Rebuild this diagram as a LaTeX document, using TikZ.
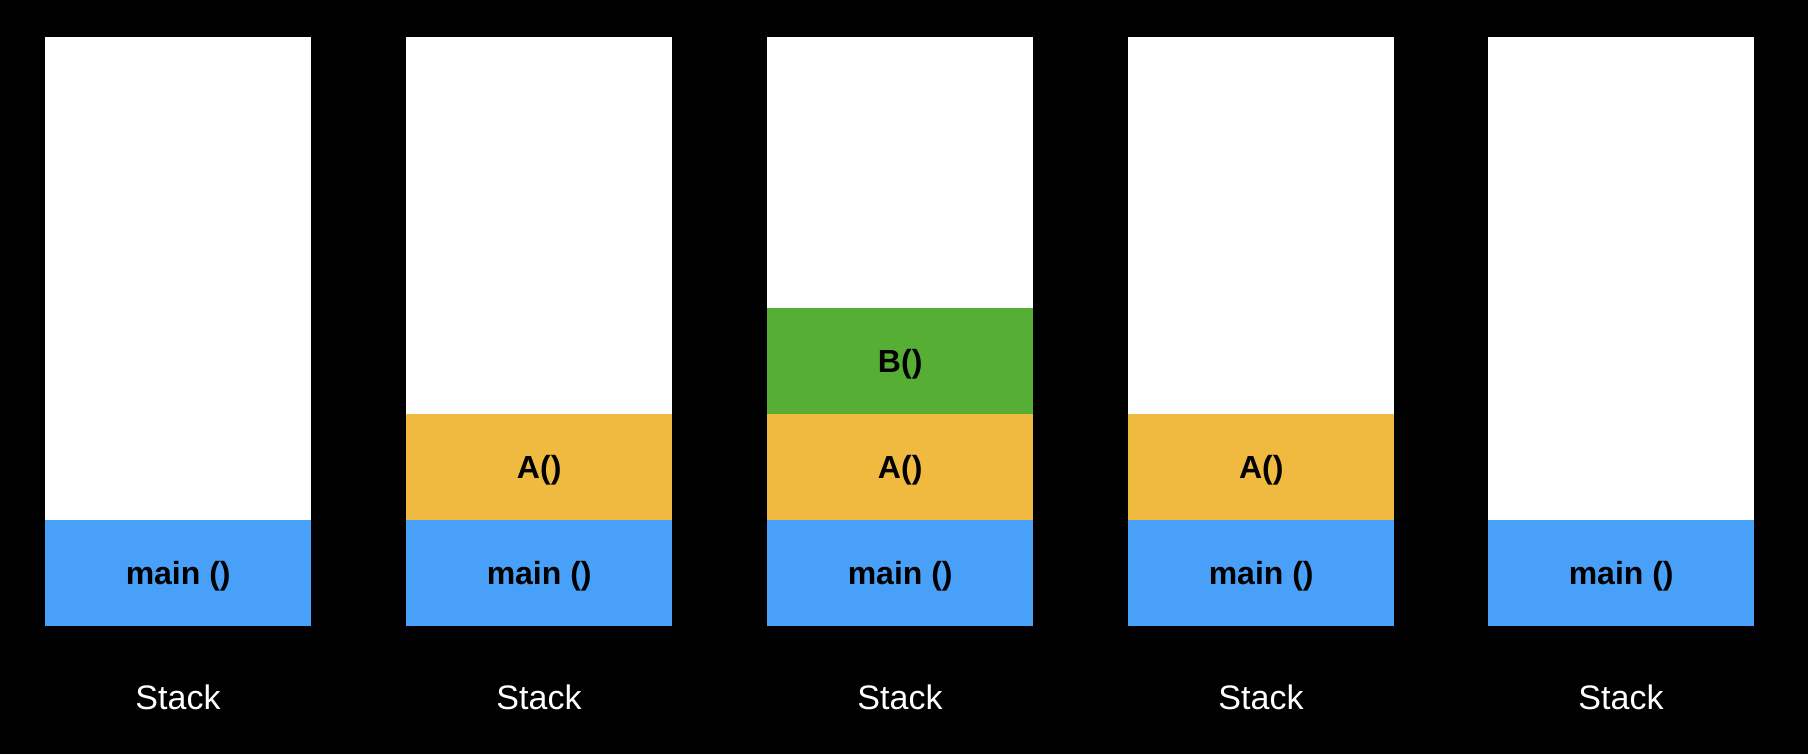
\documentclass[tikz,border=0pt]{standalone}
\usepackage{fontspec}
\setmainfont{Liberation Sans}
\definecolor{mainblue}{HTML}{48A0F8}
\definecolor{ayellow}{HTML}{F0BA40}
\definecolor{bgreen}{HTML}{56AF34}
\begin{document}
\begin{tikzpicture}[x=1pt,y=1pt,
  stackbox/.style={fill=white,draw=none,minimum width=266pt,minimum height=589pt,inner sep=0pt,anchor=south west},
  frame/.style={draw=none,minimum width=266pt,minimum height=106pt,inner sep=0pt,anchor=south west,
    text depth=0pt,font=\fontsize{32}{38}\selectfont\bfseries,text=black},
  mainf/.style={frame,fill=mainblue},
  af/.style={frame,fill=ayellow},
  bf/.style={frame,fill=bgreen},
  lbl/.style={text=white,font=\fontsize{34}{40}\selectfont,inner sep=0pt}]
\fill[black] (0,0) rectangle (1808,754);
\useasboundingbox (0,0) rectangle (1808,754);
% column 1
\node[stackbox] (s1) at (45,128) {};
\node[mainf] (m1) at (45,128) {main ()};
\node[lbl] (l1) at (178,57) {Stack};
% column 2
\node[stackbox] (s2) at (406,128) {};
\node[mainf] (m2) at (406,128) {main ()};
\node[af] (a2) at (406,234) {A()};
\node[lbl] (l2) at (539,57) {Stack};
% column 3
\node[stackbox] (s3) at (767,128) {};
\node[mainf] (m3) at (767,128) {main ()};
\node[af] (a3) at (767,234) {A()};
\node[bf] (b3) at (767,340) {B()};
\node[lbl] (l3) at (900,57) {Stack};
% column 4
\node[stackbox] (s4) at (1128,128) {};
\node[mainf] (m4) at (1128,128) {main ()};
\node[af] (a4) at (1128,234) {A()};
\node[lbl] (l4) at (1261,57) {Stack};
% column 5
\node[stackbox] (s5) at (1488,128) {};
\node[mainf] (m5) at (1488,128) {main ()};
\node[lbl] (l5) at (1621,57) {Stack};
\end{tikzpicture}
\end{document}
